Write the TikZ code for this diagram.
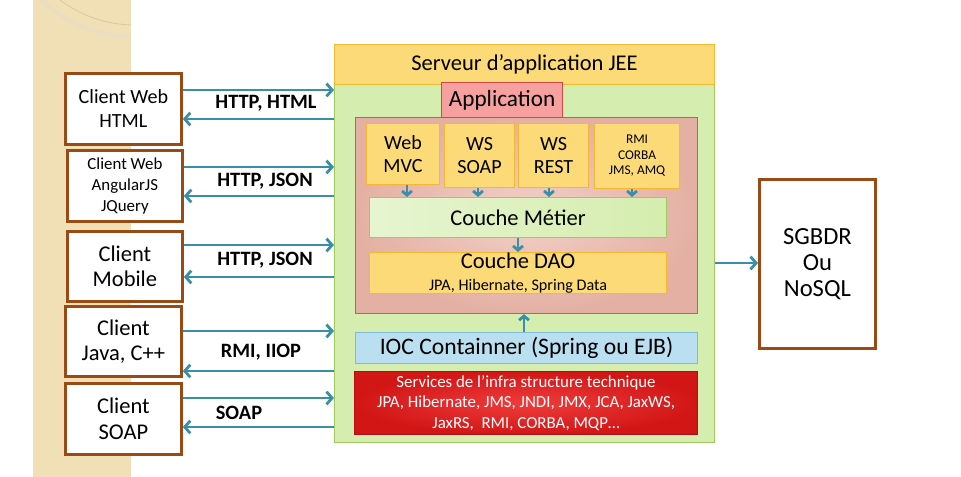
\documentclass[tikz,border=0pt]{standalone}
\usepackage{fontspec}
\setmainfont{Carlito}
\usetikzlibrary{arrows.meta,calc}

\definecolor{stripc}{RGB}{241,224,182}
\definecolor{ringc}{RGB}{222,200,150}
\definecolor{cliedge}{RGB}{154,74,20}
\definecolor{flowc}{RGB}{58,143,168}
\definecolor{yeledge}{RGB}{245,184,48}
\definecolor{yeldark}{RGB}{252,218,120}
\definecolor{yellight}{RGB}{254,238,184}
\definecolor{grnfill}{RGB}{213,237,174}
\definecolor{grnedge}{RGB}{158,203,94}
\definecolor{grnlight}{RGB}{230,245,208}
\definecolor{rosedge}{RGB}{184,102,76}
\definecolor{rosdark}{RGB}{228,176,164}
\definecolor{roslight}{RGB}{242,208,198}
\definecolor{appedge}{RGB}{208,72,72}
\definecolor{appdark}{RGB}{246,160,160}
\definecolor{applight}{RGB}{252,200,200}
\definecolor{iocfill}{RGB}{186,223,240}
\definecolor{iocedge}{RGB}{128,188,216}
\definecolor{reddark}{RGB}{210,22,22}
\definecolor{redlight}{RGB}{240,60,60}
\definecolor{rededge}{RGB}{176,16,16}

\tikzset{
  box/.style={inner sep=0pt, align=center, line width=0.8pt, anchor=north west},
  sz/.style 2 args={minimum width=#1*0.025cm, minimum height=#2*0.025cm},
  client/.style={box, draw=cliedge, fill=white, line width=2pt},
  yelbox/.style={box, draw=yeledge, left color=yeldark, middle color=yellight, right color=yeldark},
  flow/.style={draw=flowc, line width=2pt, -{Straight Barb[length=4pt,width=9pt]}},
  tick/.style={draw=flowc, line width=2pt, -{Straight Barb[length=3pt,width=7pt]}},
  lbl/.style={font=\fontsize{14.5}{16}\selectfont\bfseries}
}

\begin{document}
\begin{tikzpicture}[x=0.025cm,y=-0.025cm]
\useasboundingbox (0,0) rectangle (961,477);

\fill[stripc] (33,0) rectangle (131,477);
\begin{scope}
  \clip (33,0) rectangle (131,477);
  \draw[ringc!60, line width=3pt] (135,-100) circle (137);
  \draw[ringc, line width=0.6pt] (135,-100) circle (125);
\end{scope}

\node (body) at (334,84) [box, sz={380}{358}, draw=grnedge, fill=grnfill] {};
\node (hdr) at (334,44) [yelbox, sz={380}{40}, font=\fontsize{16}{18}\selectfont] {Serveur d’application JEE};
\node (appin) at (355,117) [box, sz={342}{196}, draw=rosedge, inner color=roslight, outer color=rosdark] {};
\node (app) at (441,82) [box, sz={121}{35}, draw=appedge, left color=appdark, middle color=applight, right color=appdark,
  font=\fontsize{16.5}{18}\selectfont] {Application};

\node (wmvc) at (366,123) [yelbox, sz={73}{61}, font=\fontsize{14.3}{16}\selectfont] {Web\\MVC};
\node (wsoap) at (444,123) [yelbox, sz={70}{64}, font=\fontsize{14.3}{16}\selectfont] {WS\\SOAP};
\node (wrest) at (518,123) [yelbox, sz={70}{64}, font=\fontsize{14.3}{16}\selectfont] {WS\\REST};
\node (wrmi) at (594,123) [yelbox, sz={85}{65}, font=\fontsize{9.5}{11}\selectfont] {RMI\\CORBA\\JMS, AMQ};

\node (metier) at (369,197) [box, sz={297}{40}, draw=grnedge, left color=grnlight, right color=grnfill,
  font=\fontsize{16}{18}\selectfont] {Couche Métier};
\node (dao) at (369,252) [yelbox, sz={297}{41}] {{\fontsize{16}{16}\selectfont Couche DAO}\\[3pt]{\fontsize{11.5}{13}\selectfont JPA, Hibernate, Spring Data}};
\node (ioc) at (355,332) [box, sz={342}{31}, draw=iocedge, fill=iocfill, font=\fontsize{16.8}{18}\selectfont] {IOC Containner (Spring ou EJB)};
\node (infra) at (354,371) [box, sz={343}{63}, draw=rededge, inner color=redlight, outer color=reddark, text=white,
  font=\fontsize{12}{14.5}\selectfont] {Services de l’infra structure technique\\JPA, Hibernate, JMS, JNDI, JMX, JCA, JaxWS,\\JaxRS,\ \ RMI, CORBA, MQP…};

\node (cweb) at (64,72) [client, sz={116}{71}, font=\fontsize{14.3}{17}\selectfont] {Client Web\\HTML};
\node (cjs) at (66,149) [client, sz={115}{71}, font=\fontsize{12}{15}\selectfont] {Client Web\\AngularJS\\JQuery};
\node (cmob) at (66,230) [client, sz={115}{70}, font=\fontsize{16}{18}\selectfont] {Client\\Mobile};
\node (cjava) at (64,305) [client, sz={116}{70}, font=\fontsize{16}{18}\selectfont] {Client\\Java, C++};
\node (csoap) at (64,382) [client, sz={116}{71}, font=\fontsize{16}{18}\selectfont] {Client\\SOAP};
\node (sgbd) at (758,178) [client, sz={116}{169}, font=\fontsize{17.5}{18.5}\selectfont] {SGBDR\\Ou\\NoSQL};

\node (lhtml) at (266,103) [lbl] {HTTP, HTML};
\node (ljs) at (265,181) [lbl] {HTTP, JSON};
\node (lmob) at (265,260) [lbl] {HTTP, JSON};
\node (ljava) at (261,352) [lbl] {RMI, IIOP};
\node (lsoap) at (239,413) [lbl] {SOAP};

\draw[flow] (cweb.east |- 0,90) -- (body.west |- 0,90);
\draw[flow] (body.west |- 0,119) -- (cweb.east |- 0,119);
\draw[flow] (cjs.east |- 0,167) -- (body.west |- 0,167);
\draw[flow] (body.west |- 0,196) -- (cjs.east |- 0,196);
\draw[flow] (cmob.east |- 0,245) -- (body.west |- 0,245);
\draw[flow] (body.west |- 0,277) -- (cmob.east |- 0,277);
\draw[flow] (cjava.east |- 0,331) -- (body.west |- 0,331);
\draw[flow] (body.west |- 0,371) -- (cjava.east |- 0,371);
\draw[flow] (csoap.east |- 0,398) -- (body.west |- 0,398);
\draw[flow] (body.west |- 0,427) -- (csoap.east |- 0,427);
\draw[flow] (body.east |- 0,263) -- (sgbd.west |- 0,263);

\draw[tick] (wmvc.south -| 407,0) -- (metier.north -| 407,0);
\draw[tick] (wsoap.south -| 478,0) -- (metier.north -| 478,0);
\draw[tick] (wrest.south -| 549,0) -- (metier.north -| 549,0);
\draw[tick] (wrmi.south -| 632,0) -- (metier.north -| 632,0);
\draw[tick] (metier.south -| 518,0) -- (dao.north -| 518,0);
\draw[tick] (ioc.north -| 524,0) -- (appin.south -| 524,0);
\end{tikzpicture}
\end{document}
